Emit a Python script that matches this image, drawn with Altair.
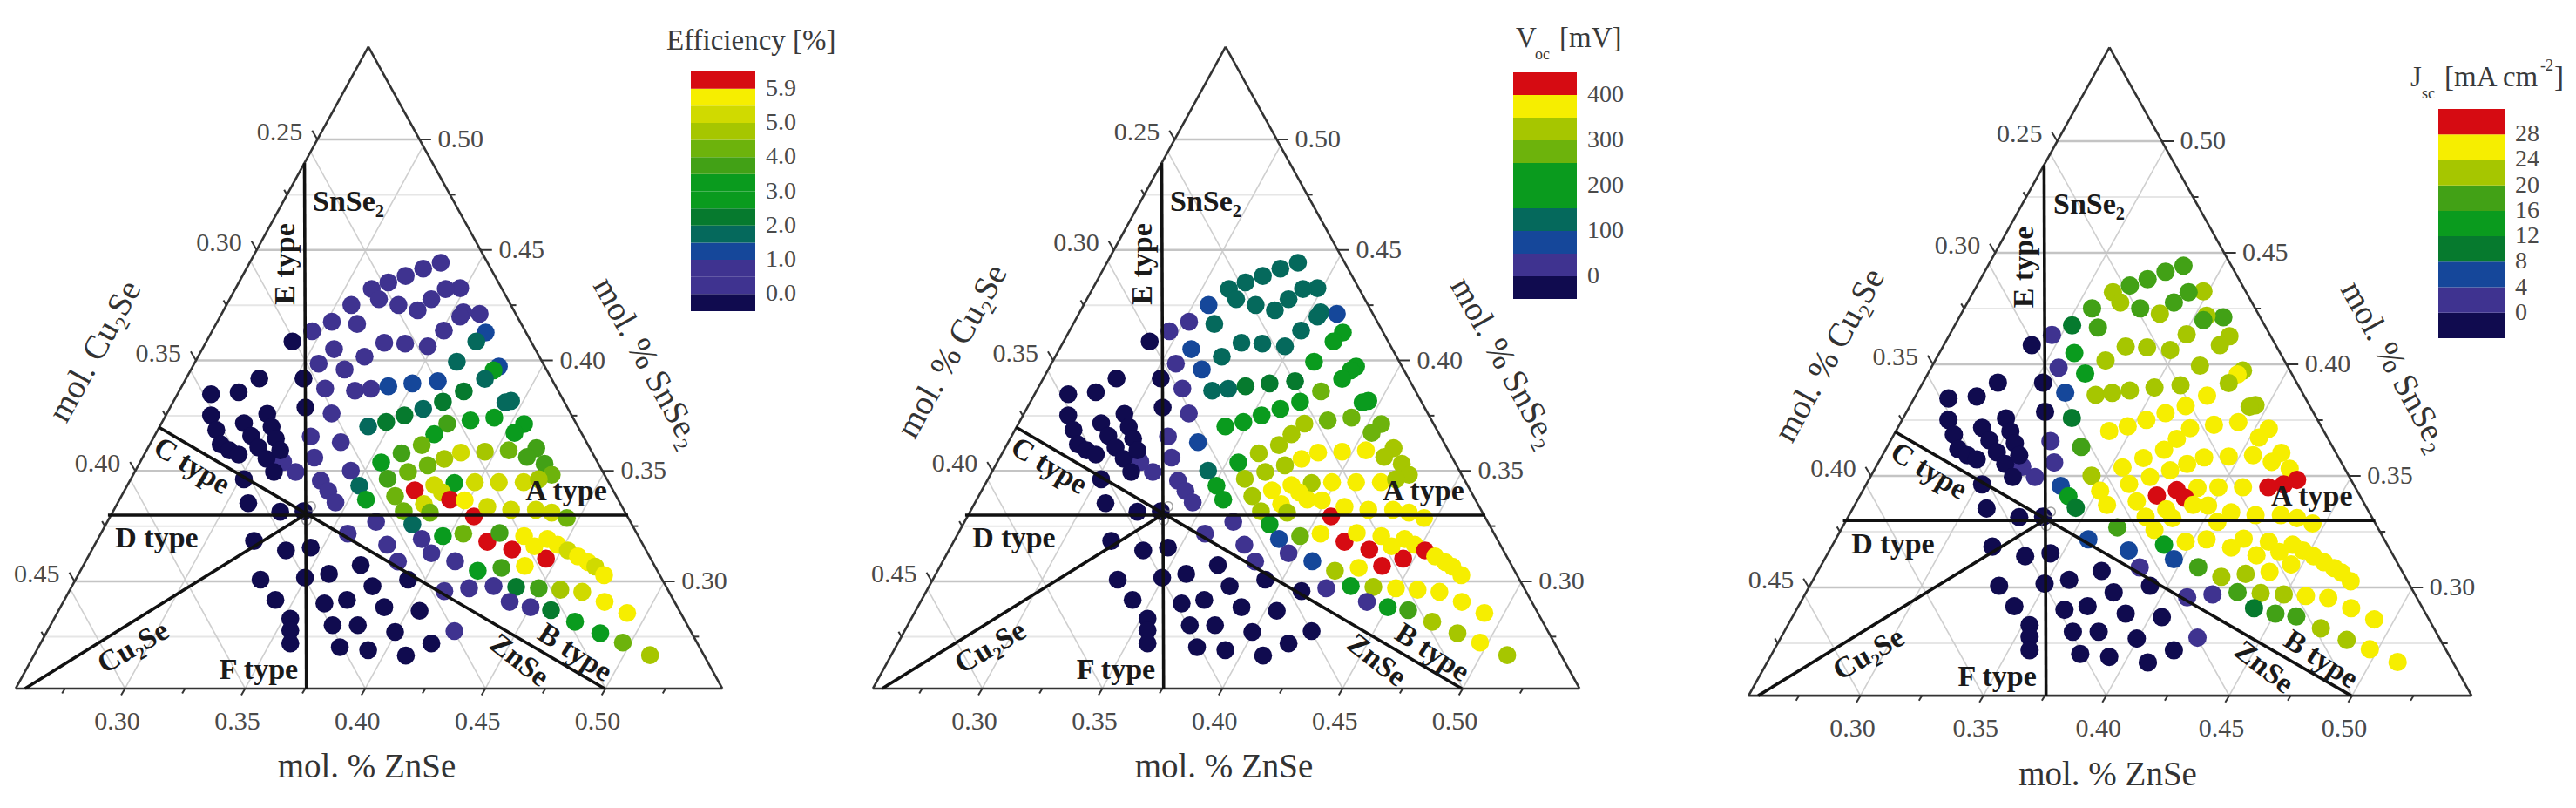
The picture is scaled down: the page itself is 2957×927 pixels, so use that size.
import altair as alt
import pandas as pd

# ---- composition of every sample (mol %) ----
ZNSE = [
 43.14,42.41,41.68,40.96,40.27,40.57,43.95,43.35,42.75,42.18,
 41.38,39.42,38.61,39.66,37.79,36.97,44.76,44.08,43.95,45.01,
 44.62,43.27,42.60,41.66,40.79,39.97,38.70,38.06,39.14,37.43,
 38.33,39.57,40.24,40.96,41.96,43.02,43.81,45.56,45.34,44.98,
 44.10,43.23,42.41,41.63,40.87,40.12,37.51,38.60,46.07,45.83,
 45.37,44.38,43.41,46.61,46.21,42.87,42.35,37.73,38.98,41.51,
 43.29,43.98,44.98,45.97,47.12,46.73,47.46,42.60,40.66,37.88,
 39.40,41.78,40.93,47.76,46.59,47.22,45.56,44.56,43.71,42.87,
 43.19,42.06,43.53,44.14,42.44,41.24,41.60,42.69,39.75,40.03,
 38.15,38.46,38.76,37.10,36.58,
 33.58,34.73,35.59,33.58,33.80,33.98,34.35,34.73,34.95,35.25,
 35.55,35.89,36.20,35.92,36.10,36.28,36.46,34.95,35.13,36.46,37.43,
 35.37,36.70,37.73,35.64,37.49,38.49,39.81,36.26,40.30,41.78,
 38.30,39.24,40.79,42.26,36.88,36.88,36.88,38.64,39.69,41.24,
 38.94,40.12,41.69,42.75,43.71,
 39.27,40.45,40.91,41.36,41.96,42.35,42.75,43.23,44.08,43.74,
 43.29,44.32,45.34,46.28,47.22,48.12,49.03,49.96,50.90,46.01,
 46.88,47.73,48.73,49.78,50.72,51.85,44.68,45.67,46.64,47.52,
 46.11,45.08,44.52,45.59,46.61,47.04,47.58,48.00,48.43,48.85,
 49.27,49.57,49.94,45.08,46.07,47.10,47.76,48.39,
]
SNSE2 = [
 44.42,44.15,43.82,43.53,43.23,42.77,43.27,43.23,42.77,42.27,
 42.51,42.51,41.75,41.65,41.32,40.86,42.11,42.18,41.98,41.26,
 40.86,41.35,40.64,40.76,40.80,40.17,40.51,39.85,39.59,39.18,
 38.73,38.63,38.72,38.83,38.96,39.06,39.94,39.72,39.55,39.16,
 38.60,38.13,37.81,37.51,37.22,37.01,37.87,37.60,38.17,38.10,
 37.41,37.29,37.14,37.12,36.72,36.66,36.17,36.56,36.30,35.80,
 35.54,35.83,35.87,35.93,36.03,35.63,35.32,35.25,35.38,35.60,
 35.01,34.95,34.64,34.82,34.49,34.62,34.49,34.49,34.46,34.36,
 34.03,34.12,33.70,33.67,33.50,33.86,33.17,33.11,34.33,33.70,
 34.55,34.09,33.57,34.95,35.41,
 38.47,38.56,39.18,37.51,36.85,36.20,35.93,35.74,37.16,36.59,
 36.06,35.54,34.95,37.58,36.99,36.46,35.93,34.62,33.54,33.15,33.17,
 31.83,31.40,31.53,30.08,30.17,30.34,30.74,29.16,29.78,30.08,
 29.00,29.16,28.83,28.67,28.31,27.78,27.19,28.02,28.02,27.71,
 27.02,26.89,26.64,27.19,27.75,
 32.16,32.69,31.66,30.90,32.58,31.92,31.27,32.05,32.16,30.91,
 29.56,29.69,29.79,29.75,29.69,29.62,29.53,29.07,28.57,29.07,
 28.83,28.70,28.17,27.65,27.23,26.66,30.48,30.61,30.70,31.03,
 31.44,31.79,32.94,32.19,32.05,31.59,31.92,31.66,31.40,31.13,
 30.87,30.67,30.28,33.37,33.24,33.24,33.11,32.87,
]
# colour class of each sample in the three diagrams
EFF = [
 1,1,1,1,1,1,1,1,1,1,
 1,1,1,1,1,0,1,1,1,2,
 3,1,1,1,1,1,1,1,1,0,
 1,1,1,2,2,2,3,2,5,3,
 4,4,3,4,4,3,0,1,3,3,
 5,5,6,5,5,5,7,1,1,6,
 8,9,8,7,6,6,6,7,5,1,
 1,7,6,7,9,8,9,9,5,9,
 9,11,11,10,9,7,7,7,3,5,
 1,1,1,1,1,
 0,0,0,0,0,0,0,0,0,0,
 0,0,0,0,0,0,0,0,0,0,0,
 0,0,0,0,0,0,0,0,0,0,
 0,0,0,0,0,0,0,0,0,0,
 0,0,0,0,1,
 1,1,1,1,3,1,1,5,7,1,
 1,1,1,4,6,8,9,10,10,1,
 1,4,5,5,7,8,5,6,10,11,
 11,11,11,6,10,10,10,10,9,10,
 10,9,10,9,9,9,9,7,
]
VOC = [
 3,3,3,3,3,3,3,3,3,3,
 3,2,1,3,1,0,2,3,3,5,
 5,3,3,3,3,3,2,1,2,0,
 1,3,3,4,4,4,5,5,5,5,
 7,5,5,5,5,5,0,1,5,5,
 7,7,8,7,7,8,8,1,2,8,
 10,10,10,10,8,8,8,8,5,1,
 3,8,8,8,10,8,10,10,8,10,
 10,10,10,10,10,8,8,8,5,5,
 1,1,1,1,1,
 0,0,0,0,0,0,0,0,0,0,
 0,0,0,0,0,0,0,0,0,0,0,
 0,0,0,0,0,0,0,0,0,0,
 0,0,0,0,0,0,0,0,0,0,
 0,0,0,0,0,
 1,1,1,1,5,2,1,7,10,2,
 0,1,5,8,10,10,10,10,10,1,
 5,6,8,8,10,8,8,10,11,11,
 11,11,11,10,10,10,10,10,11,10,
 10,10,10,10,10,10,10,10,
]
JSC = [
 6,6,6,6,8,8,8,6,6,8,
 6,6,4,6,1,0,6,8,6,8,
 8,8,8,8,8,8,5,1,5,0,
 2,8,8,8,8,8,8,8,10,8,
 10,10,10,10,10,10,0,4,8,8,
 10,10,10,10,10,10,10,1,6,10,
 10,10,10,10,10,10,10,10,10,1,
 8,10,10,11,11,11,10,10,10,11,
 11,11,10,10,10,10,10,10,10,10,
 2,5,4,1,1,
 0,0,0,0,0,0,0,0,0,0,
 0,0,0,0,0,0,0,0,0,0,0,
 0,0,0,0,0,0,0,0,0,0,
 0,0,0,0,0,0,0,0,0,0,
 0,0,0,0,1,
 2,6,2,1,10,5,2,10,10,6,
 1,1,6,8,8,10,10,10,10,4,
 6,6,8,8,10,10,8,8,10,10,
 10,10,10,10,10,10,10,10,10,10,
 10,10,10,10,10,10,10,10,
]
LEVELS = list(range(12))
PALETTE = ["#100b4f", "#3f3390", "#15479a", "#05695c", "#067a2e", "#0a9b1e",
           "#42a116", "#6db30c", "#a6c600", "#d0da00", "#f6ee00", "#d60b12"]

# colour-bar stacks, bottom to top, and their labels (label sits at a band edge)
BAND_EFF = [0, 1, 1, 2, 3, 4, 5, 5, 6, 7, 8, 9, 10, 11]
TICK_EFF = ["0.0", "1.0", "2.0", "3.0", "4.0", "5.0", "5.9"]
EDGE_EFF = [1, 3, 5, 7, 9, 11, 13]
BAND_VOC = [0, 1, 2, 3, 5, 5, 7, 8, 10, 11]
TICK_VOC = ["0", "100", "200", "300", "400"]
EDGE_VOC = [1, 3, 5, 7, 9]
BAND_JSC = [0, 1, 2, 4, 5, 6, 8, 10, 11]
TICK_JSC = ["0", "4", "8", "12", "16", "20", "24", "28"]
EDGE_JSC = [1, 2, 3, 4, 5, 6, 7, 8]

SN_TICKS = [0.30, 0.35, 0.40, 0.45, 0.50]
CU_TICKS = ["0.45", "0.40", "0.35", "0.30", "0.25"]
ZN_TICKS = [0.30, 0.35, 0.40, 0.45, 0.50]

# triangle corners and phase-boundary lines in axis units (ZnSe axis, SnSe2 axis)
L = (0.2545, 0.2515)
R = (0.5486, 0.2515)
T = (0.4013, 0.5420)
C = (0.3747, 0.3300)
BLACK = [(0.3747, 0.4893, 0.3755, 0.2515), (0.3140, 0.3698, 0.4996, 0.2515),
         (0.2929, 0.3300, 0.5094, 0.3300), (0.2584, 0.2515, 0.3747, 0.3300)]


def ur(v):
    return R[0] + (v - R[1]) / (T[1] - R[1]) * (T[0] - R[0])


def ul(v):
    return L[0] + (v - L[1]) / (T[1] - L[1]) * (T[0] - L[0])


def uv(px, py):
    return 0.30 + (px - 143.5) / 2758, 0.30 + (667 - py) / 2535


W = [984, 984, 973]
H = 911
X0 = [8, 992, 1976]
GEOM = [(143.5, 2758, 667, 2535), (1127.5, 2758, 667, 2535), (2135.6, 2822, 674, 2560)]

grid, ticks = [], []
for v in SN_TICKS:
    grid.append((ul(v), v, ur(v), v, "major"))
    ticks.append((ur(v), v, ur(v) + 0.0048, v))
    ticks.append((ul(v), v, ul(v) - 0.0022, v + 0.0040))
for v in [0.275, 0.325, 0.375, 0.425, 0.475]:
    grid.append((ul(v), v, ur(v), v, "minor"))
    ticks.append((ur(v), v, ur(v) + 0.0022, v))
    ticks.append((ul(v), v, ul(v) - 0.0012, v + 0.0022))
slope = (T[0] - L[0]) / (T[1] - L[1])
for z in ZN_TICKS:
    h = (R[0] - z) / (2 * slope)
    grid.append((z, L[1], z + slope * h, L[1] + h, "slant"))
    h = (z - L[0]) / (2 * slope)
    grid.append((z, L[1], z - slope * h, L[1] + h, "slant"))
    ticks.append((z, L[1], z - 0.0016, L[1] - 0.0030))
    ticks.append((z + 0.025, L[1], z + 0.025 - 0.0012, L[1] - 0.0022))
ticks.append((0.275, L[1], 0.2738, L[1] - 0.0022))
grid_df = pd.DataFrame(grid, columns=["a", "b", "c", "d", "kind"])
tick_df = pd.DataFrame(ticks, columns=["a", "b", "c", "d"])
edge_df = pd.DataFrame([(*L, *R), (*R, *T), (*T, *L)], columns=["a", "b", "c", "d"])
black_df = pd.DataFrame(BLACK, columns=["a", "b", "c", "d"])

INNER = [("SnSe₂", 400, 232, 0), ("E type", 328, 303, 270), ("C type", 220, 535, 31),
         ("A type", 650, 564, 0), ("D type", 180, 618, 0), ("Cu₂Se", 153, 743, 330),
         ("F type", 297, 769, 0), ("ZnSe", 596, 758, 38), ("B type", 660, 749, 33)]
inner_df = pd.DataFrame([(t, *uv(x, y), a) for t, x, y, a in INNER],
                        columns=["t", "u", "v", "a"])
RING = [uv(357, 581), uv(352, 597)]
ring_df = pd.DataFrame(RING, columns=["u", "v"])
FONT = "Liberation Serif"


def panel(i, levels, bands, labels, edges, bar, left_title, title_parts):
    xa, kx, ya, ky = GEOM[i]
    w = W[i]
    xs = alt.Scale(domain=[0.30 + (X0[i] - xa) / kx, 0.30 + (X0[i] + w - xa) / kx],
                   range=[0, w], nice=False, zero=False)
    ys = alt.Scale(domain=[0.30 + (ya - (8 + H)) / ky, 0.30 + (ya - 8) / ky],
                   range=[H, 0], nice=False, zero=False)

    def X(f):
        return alt.X(f, type="quantitative", scale=xs, axis=None)

    def Y(f):
        return alt.Y(f, type="quantitative", scale=ys, axis=None)

    def segs(df, **kw):
        return alt.Chart(df).mark_rule(**kw).encode(x=X("a"), y=Y("b"), x2="c", y2="d")

    layers = [
        segs(grid_df[grid_df.kind == "minor"], color="#e6e6e6", strokeWidth=2),
        segs(grid_df[grid_df.kind == "slant"], color="#cfcfcf", strokeWidth=1.6),
        segs(grid_df[grid_df.kind == "major"], color="#c4c4c4", strokeWidth=2.4),
        segs(tick_df, color="#333333", strokeWidth=2),
        segs(edge_df, color="#333333", strokeWidth=2.6),
    ]
    ring = alt.Chart(ring_df).mark_point(size=110, color="#777777", strokeWidth=1.5, filled=False).encode(
        x=X("u"), y=Y("v"))
    pts = pd.DataFrame({"u": [z / 100 for z in ZNSE], "v": [s / 100 for s in SNSE2], "level": levels})
    color = alt.Color("level:O", scale=alt.Scale(domain=LEVELS, range=PALETTE), legend=None)
    layers.append(alt.Chart(pts).mark_circle(size=445 if i == 2 else 425, opacity=1).encode(
        x=X("u"), y=Y("v"), color=color))
    layers.append(ring)
    layers.append(segs(black_df, color="#111111", strokeWidth=3.6))

    # inner phase labels
    layers.append(alt.Chart(inner_df).mark_text(font=FONT, fontWeight="bold", fontSize=34, color="#1a1a1a").encode(
        x=X("u"), y=Y("v"), text="t:N", angle=alt.Angle("a:Q", scale=None)))

    # axis tick labels
    right = pd.DataFrame({"u": [ur(v) for v in SN_TICKS], "v": SN_TICKS, "t": [f"{v:.2f}" for v in SN_TICKS]})
    layers.append(alt.Chart(right).mark_text(font=FONT, fontSize=30, color="#4a4a4a", align="left", dx=21).encode(
        x=X("u"), y=Y("v"), text="t:N"))
    left = pd.DataFrame({"u": [ul(v) for v in SN_TICKS], "v": SN_TICKS, "t": CU_TICKS})
    layers.append(alt.Chart(left).mark_text(font=FONT, fontSize=30, color="#4a4a4a", align="right", dx=-17, dy=-8).encode(
        x=X("u"), y=Y("v"), text="t:N"))
    bottom = pd.DataFrame({"u": ZN_TICKS, "v": [L[1]] * 5, "t": [f"{z:.2f}" for z in ZN_TICKS]})
    layers.append(alt.Chart(bottom).mark_text(font=FONT, fontSize=30, color="#4a4a4a", dx=-9, dy=38).encode(
        x=X("u"), y=Y("v"), text="t:N"))

    # axis titles
    titles = [("mol. % ZnSe", *uv(421, 880), 0), (left_title, *uv(109, 403), 299),
              ("mol. % SnSe₂", *uv(743, 416), 61)]
    tdf = pd.DataFrame(titles, columns=["t", "u", "v", "a"])
    layers.append(alt.Chart(tdf).mark_text(font=FONT, fontSize=39, color="#333333").encode(
        x=X("u"), y=Y("v"), text="t:N", angle=alt.Angle("a:Q", scale=None)))

    # colour bar on its own scales
    bx0, bx1, by_top, by_bot = bar
    n = len(bands)
    bxs = alt.Scale(domain=[0, 1], range=[bx0 - X0[i], bx1 - X0[i]], nice=False, zero=False)
    bys = alt.Scale(domain=[0, n], range=[by_bot - 8, by_top - 8], nice=False, zero=False)
    bdf = pd.DataFrame({"c0": 0, "c1": 1, "lo": range(n), "hi": [k + 1 for k in range(n)], "level": bands})
    layers.append(alt.Chart(bdf).mark_rect().encode(
        x=alt.X("c0:Q", scale=bxs, axis=None), x2="c1",
        y=alt.Y("lo:Q", scale=bys, axis=None), y2="hi", color=color))
    ldf = pd.DataFrame({"c": [1] * len(labels), "e": edges, "t": labels})
    layers.append(alt.Chart(ldf).mark_text(font=FONT, fontSize=28, color="#4a4a4a", align="left", dx=12).encode(
        x=alt.X("c:Q", scale=bxs, axis=None), y=alt.Y("e:Q", scale=bys, axis=None), text="t:N"))
    for t, px, py, size in title_parts:
        d = pd.DataFrame({"c": [(px - bx0) / (bx1 - bx0)], "e": [(by_bot - py) / (by_bot - by_top) * n], "t": [t]})
        layers.append(alt.Chart(d).mark_text(font=FONT, fontSize=size, color="#3a3a3a", align="left").encode(
            x=alt.X("c:Q", scale=bxs, axis=None), y=alt.Y("e:Q", scale=bys, axis=None), text="t:N"))

    return alt.layer(*layers).resolve_scale(x="independent", y="independent").properties(width=w, height=H)


p1 = panel(0, EFF, BAND_EFF, TICK_EFF, EDGE_EFF, (793, 867, 82, 357), "mol.   Cu₂Se",
           [("Efficiency [%]", 765, 47, 33)])
p2 = panel(1, VOC, BAND_VOC, TICK_VOC, EDGE_VOC, (1737, 1810, 83, 343), "mol. % Cu₂Se",
           [("V", 1740, 44, 33), ("oc", 1762, 63, 18), ("[mV]", 1790, 44, 33)])
p3 = panel(2, JSC, BAND_JSC, TICK_JSC, EDGE_JSC, (2799, 2875, 125, 388), "mol. % Cu₂Se",
           [("J", 2767, 89, 33), ("sc", 2780, 108, 18), ("[mA cm", 2806, 89, 33),
            ("-2", 2916, 76, 18), ("]", 2932, 89, 33)])

chart = alt.hconcat(p1, p2, p3, spacing=0, bounds="flush").properties(padding=0).configure_view(stroke=None)
chart.save("out.html", embed_options={"renderer": "svg", "actions": False})
